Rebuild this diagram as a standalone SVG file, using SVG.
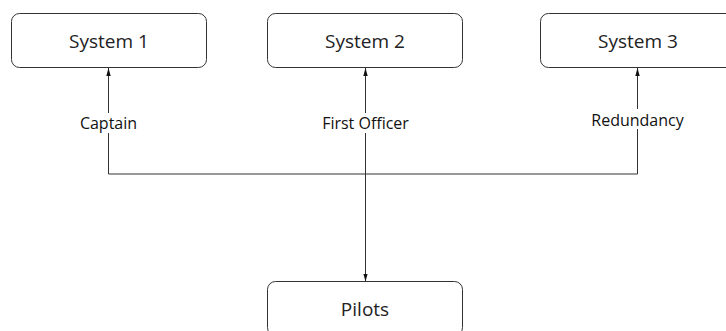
<svg xmlns="http://www.w3.org/2000/svg" width="726" height="331" viewBox="0 0 726 331">
  <style>
    .box { fill: #ffffff; stroke: #333333; stroke-width: 1; }
    .name { font-family: "Open Sans", "Liberation Sans", sans-serif; font-size: 19px; fill: #222222; text-anchor: middle; }
    .wire { fill: none; stroke: #333333; stroke-width: 1; }
    .lbl { font-family: "Open Sans", "Liberation Sans", sans-serif; font-size: 16px; fill: #111111; text-anchor: middle; }
    .lblbg { fill: #ffffff; }
  </style>
  <defs>
    <marker id="head" viewBox="0 0 8 8" refX="8" refY="4" markerWidth="8" markerHeight="8" markerUnits="userSpaceOnUse" orient="auto">
      <path d="M0,1.8 L8,4 L0,6.2 Z" fill="#111111"/>
    </marker>
  </defs>
  <rect width="726" height="331" fill="#ffffff"/>

  <g id="connectors">
    <path class="wire" d="M365.5,174 H108.5 V68" marker-end="url(#head)"/>
    <path class="wire" d="M365.5,174 H637.5 V68" marker-end="url(#head)"/>
    <path class="wire" d="M365.5,174 V68" marker-end="url(#head)"/>
    <path class="wire" d="M365.5,174 V281.5" marker-end="url(#head)"/>
    <g id="labels">
      <rect class="lblbg" x="77" y="113" width="63" height="20"/>
      <text class="lbl" x="108.5" y="129">Captain</text>
      <rect class="lblbg" x="319" y="113" width="93" height="20"/>
      <text class="lbl" x="365.5" y="129">First Officer</text>
      <rect class="lblbg" x="588" y="109" width="99" height="20"/>
      <text class="lbl" x="637.5" y="125.5">Redundancy</text>
    </g>
  </g>

  <g id="system1">
    <rect class="box" x="11.5" y="13.5" width="195" height="54" rx="8"/>
    <text class="name" x="109" y="47.5">System 1</text>
  </g>
  <g id="system2">
    <rect class="box" x="267.5" y="13.5" width="195" height="54" rx="8"/>
    <text class="name" x="365" y="47.5">System 2</text>
  </g>
  <g id="system3">
    <rect class="box" x="540.5" y="13.5" width="195" height="54" rx="8"/>
    <text class="name" x="638" y="47.5">System 3</text>
  </g>
  <g id="pilots">
    <rect class="box" x="267.5" y="281.5" width="195" height="54" rx="8"/>
    <text class="name" x="365" y="315.5">Pilots</text>
  </g>
</svg>
